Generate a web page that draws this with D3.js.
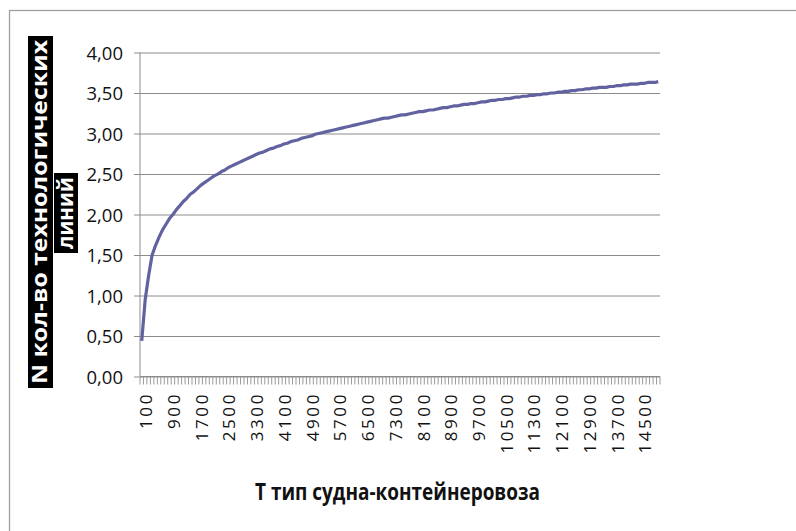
<!DOCTYPE html>
<html>
<head>
<meta charset="utf-8">
<script src="https://cdnjs.cloudflare.com/ajax/libs/d3/7.8.5/d3.min.js"></script>
<style>
  html, body { margin: 0; padding: 0; background: #fff; }
  svg { display: block; }
</style>
</head>
<body>
<svg id="chart" width="796" height="531"></svg>
<script>
// Ship type T (step 100) and the number of technological lines N
const shipTypes = d3.range(100, 15001, 100);
const lineCounts = [
  0.44, 0.95, 1.25, 1.50, 1.62, 1.72, 1.81, 1.88, 1.95, 2.00,
  2.06, 2.11, 2.16, 2.20, 2.25, 2.28, 2.32, 2.36, 2.39, 2.42,
  2.45, 2.48, 2.50, 2.53, 2.55, 2.58, 2.60, 2.62, 2.64, 2.66,
  2.68, 2.70, 2.72, 2.74, 2.76, 2.77, 2.79, 2.81, 2.82, 2.84,
  2.85, 2.87, 2.88, 2.90, 2.91, 2.92, 2.94, 2.95, 2.96, 2.97,
  2.99, 3.00, 3.01, 3.02, 3.03, 3.04, 3.05, 3.06, 3.07, 3.08,
  3.09, 3.10, 3.11, 3.12, 3.13, 3.14, 3.15, 3.16, 3.17, 3.18,
  3.19, 3.19, 3.20, 3.21, 3.22, 3.23, 3.23, 3.24, 3.25, 3.26,
  3.27, 3.27, 3.28, 3.29, 3.29, 3.30, 3.31, 3.32, 3.32, 3.33,
  3.34, 3.34, 3.35, 3.36, 3.36, 3.37, 3.37, 3.38, 3.39, 3.39,
  3.40, 3.41, 3.41, 3.42, 3.42, 3.43, 3.43, 3.44, 3.45, 3.45,
  3.46, 3.46, 3.47, 3.47, 3.48, 3.48, 3.49, 3.49, 3.50, 3.50,
  3.51, 3.51, 3.52, 3.52, 3.53, 3.53, 3.54, 3.54, 3.55, 3.55,
  3.56, 3.56, 3.57, 3.57, 3.57, 3.58, 3.58, 3.59, 3.59, 3.60,
  3.60, 3.61, 3.61, 3.61, 3.62, 3.62, 3.63, 3.63, 3.63, 3.64
];
// Every eighth category carries a label
const labelledTypes = shipTypes.filter((d, i) => i % 8 === 0);
const yTicks = [0, 0.5, 1, 1.5, 2, 2.5, 3, 3.5, 4];

const yTitleLines = ["N кол-во технологических", "линий"];
const xTitle = "Т тип судна-контейнеровоза";

const svg = d3.select("#chart");
const plot = { left: 140, right: 660, top: 52.5, bottom: 376.5 };

// chart frame
svg.append("rect")
  .attr("x", 9.5).attr("y", 10.5)
  .attr("width", 900).attr("height", 600)
  .attr("fill", "#fff")
  .attr("stroke", "#a0a0a0").attr("stroke-width", 1.3);

const x = d3.scaleBand().domain(shipTypes).range([plot.left, plot.right]);
const y = d3.scaleLinear().domain([0, 4]).range([plot.bottom, plot.top]);

// horizontal gridlines with the value axis
const yAxis = d3.axisLeft(y).tickValues(yTicks)
  .tickSize(plot.right - plot.left + 6)
  .tickFormat(d => d3.format(".2f")(d).replace(".", ","));
const gy = svg.append("g")
  .attr("transform", `translate(${plot.right},0)`)
  .call(yAxis);
gy.select(".domain").remove();
gy.selectAll(".tick line").attr("stroke", "#8c8c8c").attr("stroke-width", 1);
gy.selectAll(".tick text")
  .attr("x", -(plot.right - plot.left) - 17)
  .attr("dy", "0.36em")
  .attr("fill", "#111")
  .style("font-family", "'Open Sans', sans-serif")
  .style("font-size", "18.5px");

// vertical value axis line
svg.append("line")
  .attr("x1", plot.left).attr("x2", plot.left)
  .attr("y1", plot.top).attr("y2", plot.bottom)
  .attr("stroke", "#8c8c8c");

// category axis: a tick at every category boundary
const boundaries = shipTypes.map(d => x(d)).concat([plot.right]);
svg.append("g").selectAll("line")
  .data(boundaries).join("line")
  .attr("x1", d => d).attr("x2", d => d)
  .attr("y1", plot.bottom).attr("y2", plot.bottom + 8)
  .attr("stroke", "#9a9a9a").attr("stroke-width", 1);
svg.append("line")
  .attr("x1", plot.left).attr("x2", plot.right)
  .attr("y1", plot.bottom).attr("y2", plot.bottom)
  .attr("stroke", "#8c8c8c");

// category labels, rotated
svg.append("g").selectAll("text")
  .data(labelledTypes).join("text")
  .attr("transform", d => `translate(${x(d) + x.bandwidth() / 2 + 4},392) rotate(-90)`)
  .attr("text-anchor", "end")
  .attr("dy", "0.38em")
  .attr("fill", "#111")
  .style("font-family", "'Open Sans', sans-serif")
  .style("font-size", "17px")
  .style("letter-spacing", "2.6px")
  .text(d => d);

// the curve
const line = d3.line()
  .x((d, i) => x(shipTypes[i]) + x.bandwidth() / 2)
  .y(d => y(d));
svg.append("path")
  .datum(lineCounts)
  .attr("d", line)
  .attr("fill", "none")
  .attr("stroke", "#6262a0")
  .attr("stroke-width", 3.2)
  .attr("stroke-linejoin", "round");

// value axis title: white bold text on black boxes
const yTitleBoxes = [
  { x: 28, y: 36, w: 25, h: 352 },
  { x: 54, y: 173, w: 24, h: 80 }
];
yTitleBoxes.forEach((b, i) => {
  svg.append("rect")
    .attr("x", b.x).attr("y", b.y).attr("width", b.w).attr("height", b.h)
    .attr("fill", "#000");
  svg.append("text")
    .attr("transform", `translate(${b.x + b.w / 2},${b.y + b.h / 2}) rotate(-90)`)
    .attr("text-anchor", "middle")
    .attr("dy", "0.3em")
    .attr("fill", "#fff")
    .style("font-family", "'Open Sans', sans-serif")
    .style("font-weight", "bold")
    .style("font-size", "22px")
    .attr("textLength", b.h - 8)
    .attr("lengthAdjust", "spacingAndGlyphs")
    .text(yTitleLines[i]);
});

// category axis title
svg.append("text")
  .attr("x", 255).attr("y", 500)
  .attr("fill", "#111")
  .style("font-family", "'Open Sans', sans-serif")
  .style("font-weight", "bold")
  .style("font-size", "24px")
  .attr("textLength", 285)
  .attr("lengthAdjust", "spacingAndGlyphs")
  .text(xTitle);
</script>
</body>
</html>
